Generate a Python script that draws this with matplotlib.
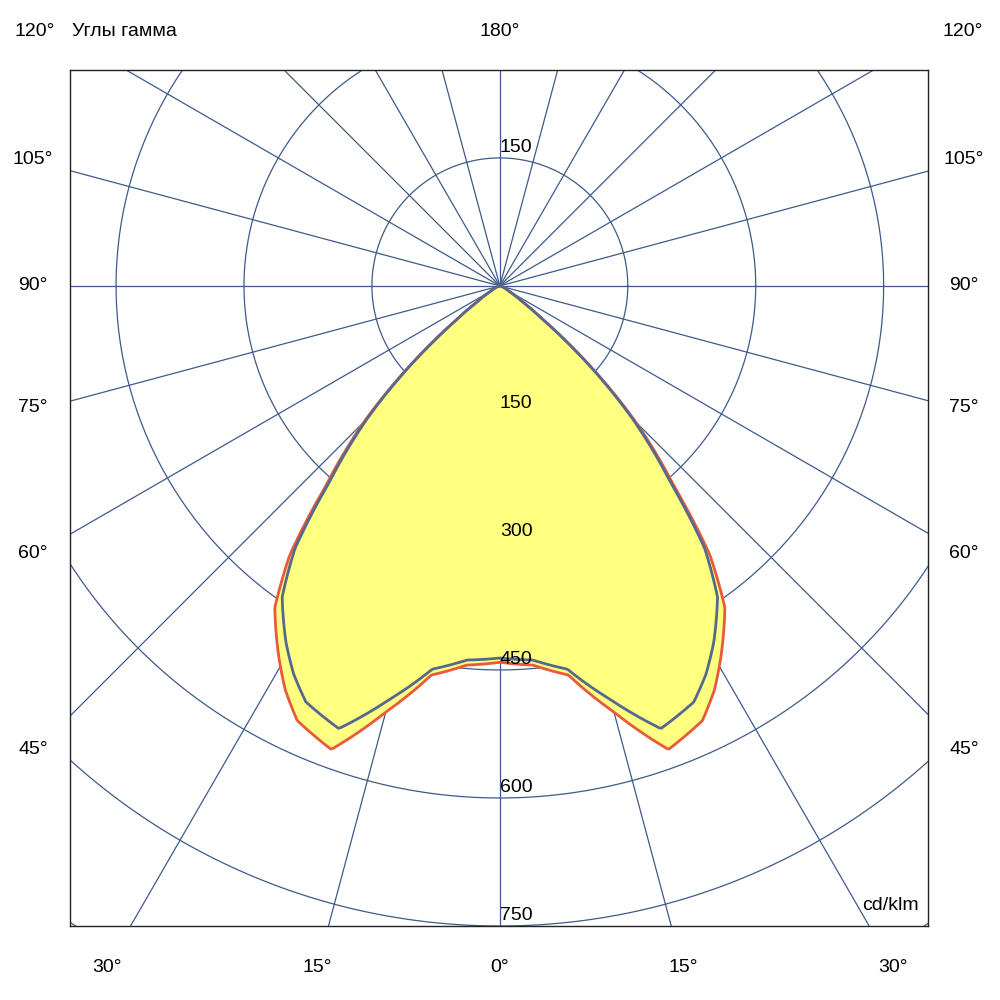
import matplotlib
matplotlib.use('Agg')
import matplotlib.pyplot as plt
import numpy as np

plt.rcParams['font.family'] = ['Liberation Sans', 'DejaVu Sans']

# gamma angle (deg, 0 = straight down) and intensity (cd/klm), symmetric curves
gamma = [0, 5, 10, 15, 20, 25, 28, 31, 35, 38, 41, 45, 48, 50, 52, 55, 60, 70, 90]
blue_r = [436, 440, 456, 502, 552, 538, 515, 487, 445, 390, 305, 220, 150, 105, 65, 32, 12, 3, 0]
red_r = [441, 446, 463, 517, 578, 562, 536, 504, 460, 400, 312, 225, 152, 105, 65, 32, 12, 3, 0]

ring_values = [150, 300, 450, 600, 750, 900]
down_labels = ['150', '300', '450', '600', '750']
side_labels = ['105°', '90°', '75°', '60°', '45°']
side_label_y = [160, 286, 408, 553, 750]
bottom_labels = ['30°', '15°', '0°', '15°', '30°']
bottom_label_x = [107, 317, 500, 683, 893]

grid_c = '#3e5a8a'
fig = plt.figure(figsize=(10, 10), dpi=100)
ax = fig.add_axes([0.07, 0.074, 0.858, 0.856])
ax.set_xlim(-504, 502)
ax.set_ylim(-750, 253)
ax.set_xticks([])
ax.set_yticks([])
for s in ax.spines.values():
    s.set_color('#222222')
    s.set_linewidth(1)

t = np.linspace(0, 2 * np.pi, 400)
for r in ring_values:
    ax.plot(r * np.cos(t), r * np.sin(t), color=grid_c, lw=0.9)
for a in range(0, 360, 15):
    ar = np.radians(a)
    ax.plot([0, 1200 * np.sin(ar)], [0, -1200 * np.cos(ar)], color=grid_c, lw=0.9)


def curve(r):
    # interpolate in polar coordinates so segments follow the curve
    gf = np.linspace(0, 90, 400)
    rf = np.interp(gf, gamma, r)
    g = np.radians(np.concatenate([-gf[::-1], gf[1:]]))
    rr = np.concatenate([rf[::-1], rf[1:]])
    return rr * np.sin(g), -rr * np.cos(g)


xr, yr = curve(red_r)
xb, yb = curve(blue_r)
ax.fill(xr, yr, color='#ffff80', zorder=2)
ax.plot(xr, yr, color='#e85a3a', lw=2, zorder=3)
ax.plot(xb, yb, color='#55688f', lw=2, zorder=4)

ax.text(0, 152, '150', fontsize=14, ha='left', va='bottom', zorder=5)
for v, lab in zip(ring_values, down_labels):
    ax.text(0, -v + 2, lab, fontsize=14, ha='left', va='bottom', zorder=5)

fig.text(0.035, 0.968, '120°', fontsize=14, ha='center', va='center')
fig.text(0.072, 0.968, 'Углы гамма', fontsize=14, ha='left', va='center')
fig.text(0.5, 0.968, '180°', fontsize=14, ha='center', va='center')
fig.text(0.963, 0.968, '120°', fontsize=14, ha='center', va='center')
for lab, y in zip(side_labels, side_label_y):
    fig.text(0.033, 1 - y / 1000, lab, fontsize=14, ha='center', va='center')
    fig.text(0.964, 1 - y / 1000, lab, fontsize=14, ha='center', va='center')
for lab, x in zip(bottom_labels, bottom_label_x):
    fig.text(x / 1000, 0.033, lab, fontsize=14, ha='center', va='center')
fig.text(0.89, 0.095, 'cd/klm', fontsize=14, ha='center', va='center')

fig.savefig('out.png', dpi=100)
